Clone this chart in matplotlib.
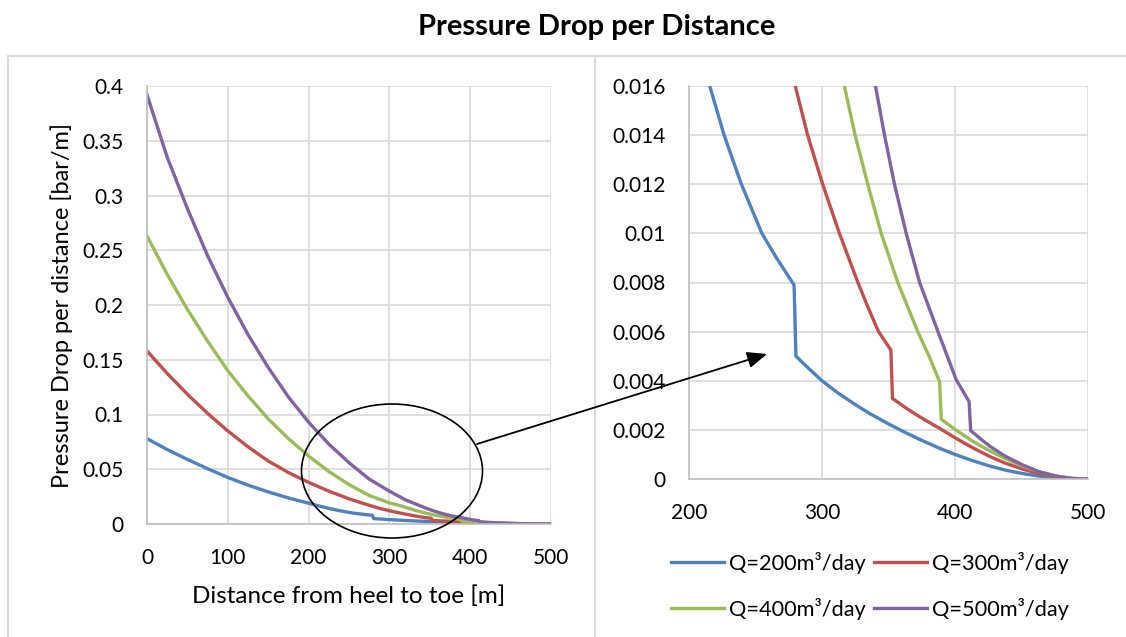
import matplotlib
matplotlib.use('Agg')
import matplotlib.pyplot as plt
from matplotlib.patches import Ellipse

plt.rcParams['font.family'] = ['Lato', 'DejaVu Sans']

# Расстояние от пятки до носка [м] и перепад давления [бар/м] для каждого дебита
x_q200 = [0, 25, 50, 75, 100, 125, 150, 175, 200, 215.6, 226.4, 239.4, 254.8, 265.8, 279,
          280.4, 290, 300, 312, 325.6, 337, 350.8, 362, 375.9, 388, 400, 413, 426, 438,
          451, 463, 476, 488, 500]
y_q200 = [0.078, 0.068, 0.059, 0.0505, 0.0425, 0.0355, 0.0293, 0.0238, 0.019, 0.016, 0.014,
          0.012, 0.010, 0.009, 0.0079, 0.0050, 0.0045, 0.0040, 0.0035, 0.00301, 0.00263,
          0.00222, 0.00191, 0.00155, 0.00126, 0.00100, 0.00075, 0.00053, 0.00036, 0.00022,
          0.00012, 0.00005, 0.00001, 0]

x_q300 = [0, 25, 50, 75, 100, 125, 150, 175, 200, 225, 250, 265, 279.9, 289.2, 300.5,
          313.1, 327, 334.5, 342.5, 351.8, 353, 365, 376, 389.7, 400, 413, 426, 438,
          451, 463, 476, 488, 500]
y_q300 = [0.158, 0.1375, 0.1185, 0.101, 0.085, 0.0705, 0.0575, 0.047, 0.038, 0.030, 0.023,
          0.0194, 0.016, 0.014, 0.012, 0.010, 0.008, 0.007, 0.006, 0.00525, 0.00328,
          0.00282, 0.00245, 0.00202, 0.00168, 0.00128, 0.00092, 0.00064, 0.0004, 0.00022,
          0.0001, 0.00002, 0]

x_q400 = [0, 25, 50, 75, 100, 125, 150, 175, 200, 225, 250, 275, 300, 316.8, 324.9,
          334.4, 344.5, 357, 364.5, 372, 380.5, 388.4, 389.7, 400, 413, 426, 438, 451,
          463, 476, 488, 500]
y_q400 = [0.263, 0.228, 0.196, 0.167, 0.140, 0.117, 0.096, 0.078, 0.062, 0.048, 0.036,
          0.026, 0.0193, 0.016, 0.014, 0.012, 0.010, 0.008, 0.007, 0.006, 0.005, 0.00396,
          0.00243, 0.00202, 0.00155, 0.00115, 0.00082, 0.00052, 0.0003, 0.00012, 0.00003, 0]

x_q500 = [0, 25, 50, 75, 100, 125, 150, 175, 200, 225, 250, 275, 300, 320, 340.2, 347,
          354.5, 363.3, 373.4, 387.2, 401, 410.6, 411.8, 420, 426, 438, 451, 463, 476,
          488, 500]
y_q500 = [0.392, 0.335, 0.288, 0.245, 0.207, 0.173, 0.143, 0.116, 0.093, 0.073, 0.056,
          0.041, 0.030, 0.022, 0.016, 0.014, 0.012, 0.010, 0.008, 0.006, 0.00403, 0.00315,
          0.00197, 0.0016, 0.00134, 0.00092, 0.00057, 0.0003, 0.00012, 0.00002, 0]

labels = ['Q=200m³/day', 'Q=300m³/day', 'Q=400m³/day', 'Q=500m³/day']
colors = ['#4F81BD', '#C0504D', '#9BBB59', '#8064A2']
series = [(x_q200, y_q200), (x_q300, y_q300), (x_q400, y_q400), (x_q500, y_q500)]

left_xticks = [0, 100, 200, 300, 400, 500]
left_yticks = [0, 0.05, 0.1, 0.15, 0.2, 0.25, 0.3, 0.35, 0.4]
left_ylabels = ['0', '0.05', '0.1', '0.15', '0.2', '0.25', '0.3', '0.35', '0.4']
right_xticks = [200, 300, 400, 500]
right_yticks = [0, 0.002, 0.004, 0.006, 0.008, 0.01, 0.012, 0.014, 0.016]
right_ylabels = ['0', '0.002', '0.004', '0.006', '0.008', '0.01', '0.012', '0.014', '0.016']

W, H = 1126, 637
fig = plt.figure(figsize=(W / 100, H / 100), dpi=100)

ax1 = fig.add_axes([147 / W, 1 - 524 / H, 404 / W, 438 / H])
ax2 = fig.add_axes([689 / W, 1 - 479 / H, 399 / W, 393 / H])


def style(ax, xticks, yticks, ylabels):
    ax.set_xticks(xticks)
    ax.set_yticks(yticks)
    ax.set_yticklabels(ylabels)
    ax.set_xlim(xticks[0], xticks[-1])
    ax.set_ylim(yticks[0], yticks[-1])
    ax.grid(True, color='#D9D9D9', linewidth=1.2)
    ax.set_axisbelow(True)
    for s in ['top', 'right']:
        ax.spines[s].set_visible(False)
    for s in ['left', 'bottom']:
        ax.spines[s].set_color('#BFBFBF')
        ax.spines[s].set_linewidth(1.2)
    ax.tick_params(length=0, labelsize=15, colors='black')
    ax.tick_params(axis='y', pad=17)
    ax.tick_params(axis='x', pad=17)


for ax in (ax1, ax2):
    for (xs, ys), lab, c in zip(series, labels, colors):
        ax.plot(xs, ys, color=c, linewidth=2.4, label=lab, solid_joinstyle='round')

style(ax1, left_xticks, left_yticks, left_ylabels)
style(ax2, right_xticks, right_yticks, right_ylabels)

ax1.set_xlabel('Distance from heel to toe [m]', fontsize=17.5, va='center')
ax1.xaxis.set_label_coords(0.5, -0.164)
ax1.set_ylabel('Pressure Drop per distance [bar/m]', fontsize=17, va='center', ha='center')
ax1.yaxis.set_label_coords(-0.21, 0.5)

# легенда построчно: 200, 300 / 400, 500
h, l = ax2.get_legend_handles_labels()
order = [0, 2, 1, 3]
fig.legend([h[i] for i in order], [l[i] for i in order], loc='center',
           bbox_to_anchor=(870 / W, 1 - 586 / H), ncol=2, frameon=False,
           fontsize=15.7, handlelength=2.43, handletextpad=0.23,
           columnspacing=0.37, labelspacing=1.1, borderpad=0)

fig.text(597 / W, 1 - 27 / H, 'Pressure Drop per Distance', ha='center', va='center',
         fontsize=21, fontweight='bold')

# рамки, эллипс и стрелка
over = fig.add_axes([0, 0, 1, 1], zorder=10)
over.set_xlim(0, W)
over.set_ylim(H, 0)
over.axis('off')
over.patch.set_alpha(0)
over.plot([8, W], [56, 56], color='#D9D9D9', linewidth=1.5)
over.plot([8, 8], [56, H], color='#D9D9D9', linewidth=1.5)
over.plot([595, 595], [56, H], color='#D9D9D9', linewidth=1.5)
over.add_patch(Ellipse((392, 471), 181, 134, fill=False, edgecolor='black', linewidth=1.2))
over.annotate('', xy=(767, 354), xytext=(477, 444),
              arrowprops=dict(arrowstyle='-|>,head_length=0.6,head_width=0.25',
                              color='black', linewidth=1.3, mutation_scale=20,
                              shrinkA=0, shrinkB=0))

plt.savefig('out.png', dpi=100)
